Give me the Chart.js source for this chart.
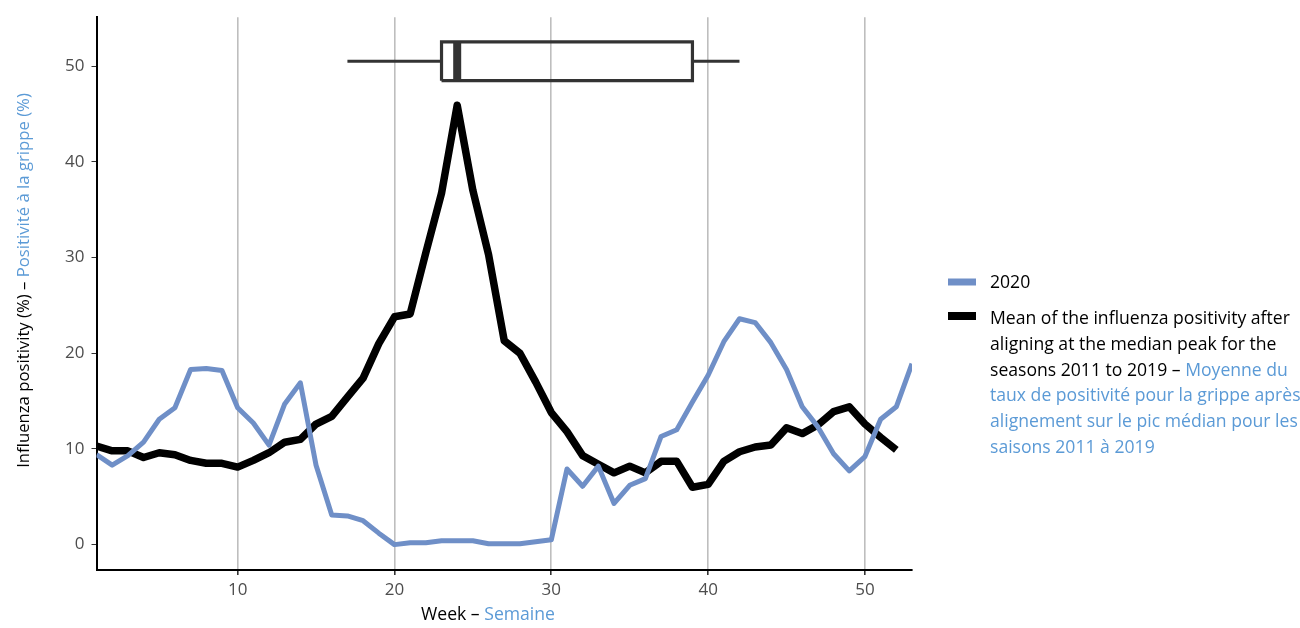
<!DOCTYPE html>
<html>
<head>
<meta charset="utf-8">
<script src="https://cdn.jsdelivr.net/npm/chart.js@4.4.1/dist/chart.umd.min.js"></script>
<style>
  html, body { margin: 0; padding: 0; background: #ffffff; }
  #wrap { position: relative; width: 1300px; height: 628px; }
  canvas { display: block; }
</style>
</head>
<body>
<div id="wrap"><canvas id="chart" width="1300" height="628"></canvas></div>
<script>
// Weeks of the year
const weeks2020 = [1,2,3,4,5,6,7,8,9,10,11,12,13,14,15,16,17,18,19,20,21,22,23,24,25,26,27,28,29,30,31,32,33,34,35,36,37,38,39,40,41,42,43,44,45,46,47,48,49,50,51,52,53];
const weeksMean = [1,2,3,4,5,6,7,8,9,10,11,12,13,14,15,16,17,18,19,20,21,22,23,24,25,26,27,28,29,30,31,32,33,34,35,36,37,38,39,40,41,42,43,44,45,46,47,48,49,50,51,52];

// Influenza positivity (%), season 2020
const positivity2020 = [9.4,8.3,9.3,10.7,13.1,14.3,18.3,18.4,18.2,14.3,12.7,10.4,14.7,16.9,8.3,3.1,3.0,2.5,1.2,0.0,0.2,0.2,0.4,0.4,0.4,0.1,0.1,0.1,0.3,0.5,7.9,6.1,8.2,4.3,6.2,6.9,11.3,12.0,14.9,17.7,21.2,23.6,23.2,21.1,18.3,14.4,12.3,9.5,7.7,9.2,13.1,14.4,18.9];

// Mean positivity of seasons 2011-2019 aligned at the median peak
const positivityMean = [10.3,9.8,9.8,9.1,9.6,9.4,8.8,8.5,8.5,8.1,8.8,9.6,10.7,11.0,12.6,13.4,15.4,17.4,21.0,23.8,24.1,30.5,36.7,45.9,37.0,30.3,21.3,20.0,17.0,13.8,11.8,9.3,8.4,7.5,8.2,7.5,8.7,8.7,6.0,6.3,8.7,9.7,10.2,10.4,12.2,11.6,12.5,13.9,14.4,12.6,11.2,9.9];

// Peak-week distribution of the seasons (min, q1, median, q3, max)
const peakWeekStats = [17, 23, 24, 39, 42];
const boxLevel = 50.5;
const boxHalfHeight = 2.03;

// Axis ticks
const xTickValues = [10, 20, 30, 40, 50];
const yTickValues = [0, 10, 20, 30, 40, 50];

const BLUE_LINE = '#6F8FC7';
const BLUE_TEXT = '#5B9AD6';
const FONT = '"Open Sans", "Noto Sans", sans-serif';

const toPoints = (xs, ys) => xs.map((x, i) => ({ x: x, y: ys[i] }));

const [wMin, q1, med, q3, wMax] = peakWeekStats;
const boxOutline = [
  { x: q1, y: boxLevel - boxHalfHeight },
  { x: q3, y: boxLevel - boxHalfHeight },
  { x: q3, y: boxLevel + boxHalfHeight },
  { x: q1, y: boxLevel + boxHalfHeight },
  { x: q1, y: boxLevel - boxHalfHeight }
];

const lineBase = { showLine: true, pointRadius: 0, pointHoverRadius: 0, tension: 0,
  borderJoinStyle: 'round', borderCapStyle: 'butt', fill: false };

const datasets = [
  Object.assign({}, lineBase, { label: 'box-median', data: [{ x: med, y: boxLevel - boxHalfHeight }, { x: med, y: boxLevel + boxHalfHeight }], borderColor: '#333333', borderWidth: 8, order: 0 }),
  Object.assign({}, lineBase, { label: 'box', data: boxOutline, borderColor: '#333333', borderWidth: 3.2, borderJoinStyle: 'miter', order: 1 }),
  Object.assign({}, lineBase, { label: 'whisker-low', data: [{ x: wMin, y: boxLevel }, { x: q1, y: boxLevel }], borderColor: '#333333', borderWidth: 3.2, order: 1 }),
  Object.assign({}, lineBase, { label: 'whisker-high', data: [{ x: q3, y: boxLevel }, { x: wMax, y: boxLevel }], borderColor: '#333333', borderWidth: 3.2, order: 1 }),
  Object.assign({}, lineBase, { label: '2020', data: toPoints(weeks2020, positivity2020), borderColor: BLUE_LINE, borderWidth: 5, order: 2 }),
  Object.assign({}, lineBase, { label: 'mean', data: toPoints(weeksMean, positivityMean), borderColor: '#000000', borderWidth: 7.5, order: 3 })
];

// Draws the two-language axis titles and the legend
const textLayer = {
  id: 'textLayer',
  afterDraw(chart) {
    const ctx = chart.ctx;
    ctx.save();
    ctx.textBaseline = 'alphabetic';
    ctx.textAlign = 'left';

    const drawRun = (parts, x, y) => {
      let cx = x;
      parts.forEach(([txt, col]) => {
        ctx.fillStyle = col;
        ctx.fillText(txt, cx, y);
        cx += ctx.measureText(txt).width;
      });
    };
    const runWidth = parts => parts.reduce((s, [t]) => s + ctx.measureText(t).width, 0);
    // pick a font size so that a reference run spans the wanted width
    const fitFont = (parts, width, base) => {
      ctx.font = base + 'px ' + FONT;
      const size = base * width / runWidth(parts);
      ctx.font = size.toFixed(2) + 'px ' + FONT;
    };

    // x axis title
    const xTitle = [['Week – ', '#000000'], ['Semaine', BLUE_TEXT]];
    fitFont(xTitle, 134, 18);
    drawRun(xTitle, 488 - runWidth(xTitle) / 2, 620);

    // y axis title (rotated)
    const yTitle = [['Influenza positivity (%) – ', '#000000'], ['Positivité à la grippe (%)', BLUE_TEXT]];
    fitFont(yTitle, 375, 18);
    ctx.save();
    ctx.translate(29, 280.5);
    ctx.rotate(-Math.PI / 2);
    drawRun(yTitle, -runWidth(yTitle) / 2, 0);
    ctx.restore();

    // legend
    const keyX0 = 948, keyX1 = 976, textX = 990;
    ctx.lineCap = 'butt';
    ctx.strokeStyle = BLUE_LINE; ctx.lineWidth = 7;
    ctx.beginPath(); ctx.moveTo(keyX0, 282); ctx.lineTo(keyX1, 282); ctx.stroke();
    ctx.strokeStyle = '#000000'; ctx.lineWidth = 8;
    ctx.beginPath(); ctx.moveTo(keyX0, 316); ctx.lineTo(keyX1, 316); ctx.stroke();

    const meanLines = [
      [['Mean of the influenza positivity after', '#000000']],
      [['aligning at the median peak for the', '#000000']],
      [['seasons 2011 to 2019 – ', '#000000'], ['Moyenne du', BLUE_TEXT]],
      [['taux de positivité pour la grippe après', BLUE_TEXT]],
      [['alignement sur le pic médian pour les', BLUE_TEXT]],
      [['saisons 2011 à 2019', BLUE_TEXT]]
    ];
    fitFont(meanLines[0], 300, 18);
    drawRun([['2020', '#000000']], textX, 288);
    meanLines.forEach((ln, i) => drawRun(ln, textX, 324 + i * 25.8));
    ctx.restore();
  }
};

new Chart(document.getElementById('chart'), {
  type: 'scatter',
  data: { datasets: datasets },
  plugins: [textLayer],
  options: {
    responsive: false,
    animation: false,
    devicePixelRatio: 1,
    layout: { padding: { top: 15, right: 388, left: 0, bottom: 0 } },
    plugins: { legend: { display: false }, tooltip: { enabled: false } },
    events: [],
    scales: {
      x: {
        type: 'linear', min: 1, max: 53,
        afterBuildTicks: s => { s.ticks = xTickValues.map(v => ({ value: v })); },
        afterFit: s => { s.height = 58; },
        ticks: { color: '#4D4D4D', font: { family: FONT, size: 17 }, padding: 5, maxRotation: 0 },
        grid: { color: '#BEBEBE', lineWidth: 1.6, tickColor: '#333333', tickLength: 5, drawOnChartArea: true },
        border: { display: true, color: '#000000', width: 2 }
      },
      y: {
        type: 'linear', min: -2.65, max: 55.1,
        afterBuildTicks: s => { s.ticks = yTickValues.map(v => ({ value: v })); },
        afterFit: s => { s.width = 96.5; },
        ticks: { color: '#4D4D4D', font: { family: FONT, size: 17 }, padding: 7 },
        grid: { drawOnChartArea: false, tickColor: '#333333', tickLength: 5 },
        border: { display: true, color: '#000000', width: 2 }
      }
    }
  }
});
</script>
</body>
</html>
